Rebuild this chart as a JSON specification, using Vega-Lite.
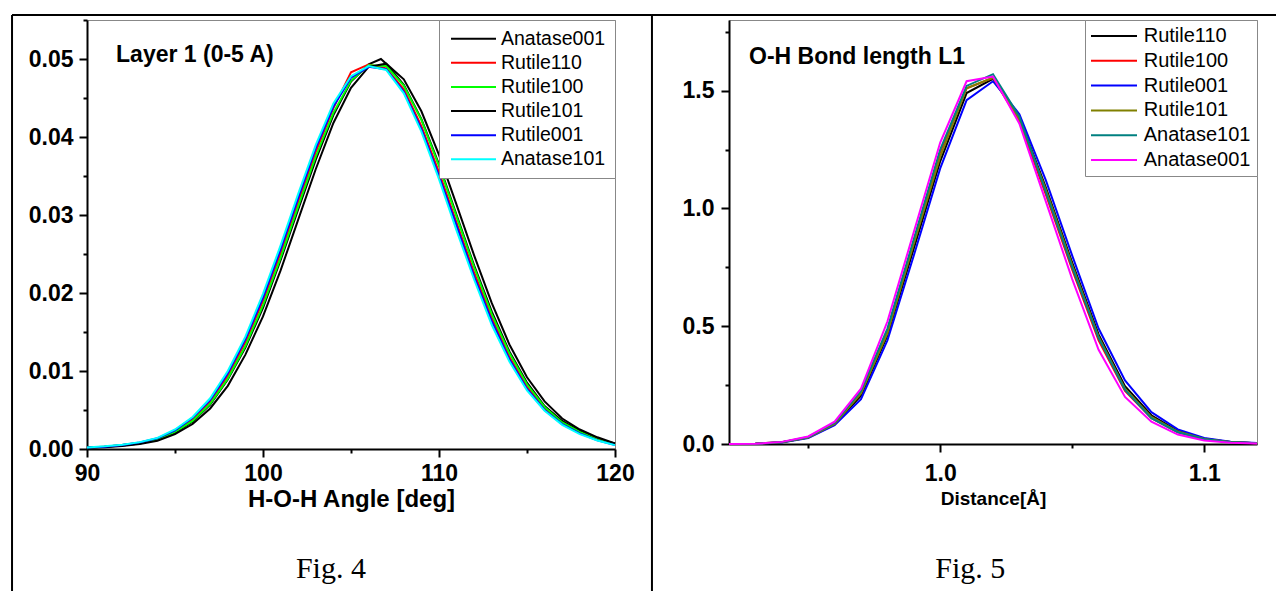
{
  "$schema": "https://vega.github.io/schema/vega-lite/v6.json",
  "padding": {"left": 10, "top": 13, "right": 0, "bottom": 0},
  "background": "white",
  "config": {
    "view": {"stroke": "#888888", "strokeWidth": 1},
    "font": "Liberation Sans",
    "axis": {"domainColor": "black", "domainWidth": 2, "tickColor": "black", "tickWidth": 2, "tickSize": 8, "labelFont": "Liberation Sans", "labelFontWeight": "bold", "labelFontSize": 23, "labelColor": "black", "titleFont": "Liberation Sans", "titleFontWeight": "bold", "titleColor": "black", "grid": false, "labelFlush": false, "labelOverlap": false},
    "legend": {"title": null, "labelFont": "Liberation Sans", "labelColor": "black", "strokeColor": "#888888", "fillColor": "white", "cornerRadius": 0, "symbolSize": 100, "symbolStrokeWidth": 2, "offset": 0, "orient": "top-right"}
  },
  "datasets": {
    "left": [
      {"s":"Anatase001","x":90,"y":0.0002},{"s":"Anatase001","x":91,"y":0.0003},{"s":"Anatase001","x":92,"y":0.00045},{"s":"Anatase001","x":93,"y":0.0007},{"s":"Anatase001","x":94,"y":0.0012},{"s":"Anatase001","x":95,"y":0.0021},{"s":"Anatase001","x":96,"y":0.0035},{"s":"Anatase001","x":97,"y":0.0057},{"s":"Anatase001","x":98,"y":0.0089},{"s":"Anatase001","x":99,"y":0.0130},{"s":"Anatase001","x":100,"y":0.0181},{"s":"Anatase001","x":101,"y":0.0242},{"s":"Anatase001","x":102,"y":0.0307},{"s":"Anatase001","x":103,"y":0.0371},{"s":"Anatase001","x":104,"y":0.0428},{"s":"Anatase001","x":105,"y":0.0471},{"s":"Anatase001","x":106,"y":0.0493},{"s":"Anatase001","x":106.7,"y":0.0500},{"s":"Anatase001","x":107,"y":0.0494},{"s":"Anatase001","x":108,"y":0.0467},{"s":"Anatase001","x":109,"y":0.0423},{"s":"Anatase001","x":110,"y":0.0365},{"s":"Anatase001","x":111,"y":0.0300},{"s":"Anatase001","x":112,"y":0.0235},{"s":"Anatase001","x":113,"y":0.0176},{"s":"Anatase001","x":114,"y":0.0125},{"s":"Anatase001","x":115,"y":0.0085},{"s":"Anatase001","x":116,"y":0.0055},{"s":"Anatase001","x":117,"y":0.0036},{"s":"Anatase001","x":118,"y":0.0023},{"s":"Anatase001","x":119,"y":0.0013},{"s":"Anatase001","x":120,"y":0.0007},
      {"s":"Rutile110","x":90,"y":0.0002},{"s":"Rutile110","x":91,"y":0.0003},{"s":"Rutile110","x":92,"y":0.0005},{"s":"Rutile110","x":93,"y":0.0008},{"s":"Rutile110","x":94,"y":0.0013},{"s":"Rutile110","x":95,"y":0.0023},{"s":"Rutile110","x":96,"y":0.0038},{"s":"Rutile110","x":97,"y":0.0061},{"s":"Rutile110","x":98,"y":0.0094},{"s":"Rutile110","x":99,"y":0.0137},{"s":"Rutile110","x":100,"y":0.0190},{"s":"Rutile110","x":101,"y":0.0251},{"s":"Rutile110","x":102,"y":0.0317},{"s":"Rutile110","x":103,"y":0.0381},{"s":"Rutile110","x":104,"y":0.0437},{"s":"Rutile110","x":105,"y":0.0483},{"s":"Rutile110","x":106,"y":0.0493},{"s":"Rutile110","x":107,"y":0.0488},{"s":"Rutile110","x":108,"y":0.0461},{"s":"Rutile110","x":109,"y":0.0414},{"s":"Rutile110","x":110,"y":0.0355},{"s":"Rutile110","x":111,"y":0.0290},{"s":"Rutile110","x":112,"y":0.0226},{"s":"Rutile110","x":113,"y":0.0168},{"s":"Rutile110","x":114,"y":0.0118},{"s":"Rutile110","x":115,"y":0.0080},{"s":"Rutile110","x":116,"y":0.0052},{"s":"Rutile110","x":117,"y":0.0033},{"s":"Rutile110","x":118,"y":0.0021},{"s":"Rutile110","x":119,"y":0.0012},{"s":"Rutile110","x":120,"y":0.0006},
      {"s":"Rutile100","x":90,"y":0.0002},{"s":"Rutile100","x":91,"y":0.0003},{"s":"Rutile100","x":92,"y":0.0005},{"s":"Rutile100","x":93,"y":0.00075},{"s":"Rutile100","x":94,"y":0.00125},{"s":"Rutile100","x":95,"y":0.0022},{"s":"Rutile100","x":96,"y":0.0036},{"s":"Rutile100","x":97,"y":0.0058},{"s":"Rutile100","x":98,"y":0.0090},{"s":"Rutile100","x":99,"y":0.0132},{"s":"Rutile100","x":100,"y":0.0184},{"s":"Rutile100","x":101,"y":0.0245},{"s":"Rutile100","x":102,"y":0.0311},{"s":"Rutile100","x":103,"y":0.0375},{"s":"Rutile100","x":104,"y":0.0431},{"s":"Rutile100","x":105,"y":0.0472},{"s":"Rutile100","x":106,"y":0.0492},{"s":"Rutile100","x":107,"y":0.0491},{"s":"Rutile100","x":108,"y":0.0466},{"s":"Rutile100","x":109,"y":0.0422},{"s":"Rutile100","x":110,"y":0.0363},{"s":"Rutile100","x":111,"y":0.0298},{"s":"Rutile100","x":112,"y":0.0233},{"s":"Rutile100","x":113,"y":0.0173},{"s":"Rutile100","x":114,"y":0.0123},{"s":"Rutile100","x":115,"y":0.0083},{"s":"Rutile100","x":116,"y":0.0054},{"s":"Rutile100","x":117,"y":0.0034},{"s":"Rutile100","x":118,"y":0.0022},{"s":"Rutile100","x":119,"y":0.0012},{"s":"Rutile100","x":120,"y":0.0006},
      {"s":"Rutile101","x":90,"y":0.00015},{"s":"Rutile101","x":91,"y":0.00023},{"s":"Rutile101","x":92,"y":0.0004},{"s":"Rutile101","x":93,"y":0.00064},{"s":"Rutile101","x":94,"y":0.00105},{"s":"Rutile101","x":95,"y":0.0019},{"s":"Rutile101","x":96,"y":0.0032},{"s":"Rutile101","x":97,"y":0.0052},{"s":"Rutile101","x":98,"y":0.0081},{"s":"Rutile101","x":99,"y":0.0121},{"s":"Rutile101","x":100,"y":0.0170},{"s":"Rutile101","x":101,"y":0.0229},{"s":"Rutile101","x":102,"y":0.0294},{"s":"Rutile101","x":103,"y":0.0359},{"s":"Rutile101","x":104,"y":0.0418},{"s":"Rutile101","x":105,"y":0.0463},{"s":"Rutile101","x":106,"y":0.0490},{"s":"Rutile101","x":107,"y":0.0494},{"s":"Rutile101","x":108,"y":0.0474},{"s":"Rutile101","x":109,"y":0.0433},{"s":"Rutile101","x":110,"y":0.0377},{"s":"Rutile101","x":111,"y":0.0313},{"s":"Rutile101","x":112,"y":0.0248},{"s":"Rutile101","x":113,"y":0.0187},{"s":"Rutile101","x":114,"y":0.0134},{"s":"Rutile101","x":115,"y":0.0092},{"s":"Rutile101","x":116,"y":0.0061},{"s":"Rutile101","x":117,"y":0.0039},{"s":"Rutile101","x":118,"y":0.0025},{"s":"Rutile101","x":119,"y":0.0015},{"s":"Rutile101","x":120,"y":0.0007},
      {"s":"Rutile001","x":90,"y":0.0002},{"s":"Rutile001","x":91,"y":0.0003},{"s":"Rutile001","x":92,"y":0.0005},{"s":"Rutile001","x":93,"y":0.00085},{"s":"Rutile001","x":94,"y":0.00137},{"s":"Rutile001","x":95,"y":0.0024},{"s":"Rutile001","x":96,"y":0.0040},{"s":"Rutile001","x":97,"y":0.0063},{"s":"Rutile001","x":98,"y":0.0097},{"s":"Rutile001","x":99,"y":0.0141},{"s":"Rutile001","x":100,"y":0.0194},{"s":"Rutile001","x":101,"y":0.0256},{"s":"Rutile001","x":102,"y":0.0322},{"s":"Rutile001","x":103,"y":0.0386},{"s":"Rutile001","x":104,"y":0.0439},{"s":"Rutile001","x":105,"y":0.0476},{"s":"Rutile001","x":106,"y":0.0490},{"s":"Rutile001","x":107,"y":0.0487},{"s":"Rutile001","x":108,"y":0.0458},{"s":"Rutile001","x":109,"y":0.0410},{"s":"Rutile001","x":110,"y":0.0350},{"s":"Rutile001","x":111,"y":0.0286},{"s":"Rutile001","x":112,"y":0.0221},{"s":"Rutile001","x":113,"y":0.0164},{"s":"Rutile001","x":114,"y":0.0115},{"s":"Rutile001","x":115,"y":0.0077},{"s":"Rutile001","x":116,"y":0.0050},{"s":"Rutile001","x":117,"y":0.0032},{"s":"Rutile001","x":118,"y":0.0020},{"s":"Rutile001","x":119,"y":0.0011},{"s":"Rutile001","x":120,"y":0.0005},
      {"s":"Anatase101","x":90,"y":0.0002},{"s":"Anatase101","x":91,"y":0.00034},{"s":"Anatase101","x":92,"y":0.00055},{"s":"Anatase101","x":93,"y":0.00088},{"s":"Anatase101","x":94,"y":0.00142},{"s":"Anatase101","x":95,"y":0.0025},{"s":"Anatase101","x":96,"y":0.0041},{"s":"Anatase101","x":97,"y":0.0065},{"s":"Anatase101","x":98,"y":0.0100},{"s":"Anatase101","x":99,"y":0.0144},{"s":"Anatase101","x":100,"y":0.0199},{"s":"Anatase101","x":101,"y":0.0261},{"s":"Anatase101","x":102,"y":0.0327},{"s":"Anatase101","x":103,"y":0.0390},{"s":"Anatase101","x":104,"y":0.0443},{"s":"Anatase101","x":105,"y":0.0478},{"s":"Anatase101","x":106,"y":0.0491},{"s":"Anatase101","x":107,"y":0.0486},{"s":"Anatase101","x":108,"y":0.0456},{"s":"Anatase101","x":109,"y":0.0407},{"s":"Anatase101","x":110,"y":0.0346},{"s":"Anatase101","x":111,"y":0.0280},{"s":"Anatase101","x":112,"y":0.0217},{"s":"Anatase101","x":113,"y":0.0159},{"s":"Anatase101","x":114,"y":0.0112},{"s":"Anatase101","x":115,"y":0.0075},{"s":"Anatase101","x":116,"y":0.0049},{"s":"Anatase101","x":117,"y":0.0031},{"s":"Anatase101","x":118,"y":0.0019},{"s":"Anatase101","x":119,"y":0.0011},{"s":"Anatase101","x":120,"y":0.0005}
    ],
    "right": [
      {"s":"Rutile110","x":0.92,"y":0},{"s":"Rutile110","x":0.93,"y":0.001},{"s":"Rutile110","x":0.94,"y":0.007},{"s":"Rutile110","x":0.95,"y":0.027},{"s":"Rutile110","x":0.96,"y":0.083},{"s":"Rutile110","x":0.97,"y":0.205},{"s":"Rutile110","x":0.98,"y":0.46},{"s":"Rutile110","x":0.99,"y":0.83},{"s":"Rutile110","x":1.0,"y":1.2},{"s":"Rutile110","x":1.01,"y":1.49},{"s":"Rutile110","x":1.02,"y":1.55},{"s":"Rutile110","x":1.03,"y":1.385},{"s":"Rutile110","x":1.04,"y":1.09},{"s":"Rutile110","x":1.05,"y":0.77},{"s":"Rutile110","x":1.06,"y":0.465},{"s":"Rutile110","x":1.07,"y":0.245},{"s":"Rutile110","x":1.08,"y":0.122},{"s":"Rutile110","x":1.09,"y":0.056},{"s":"Rutile110","x":1.1,"y":0.022},{"s":"Rutile110","x":1.11,"y":0.009},{"s":"Rutile110","x":1.12,"y":0.003},
      {"s":"Rutile100","x":0.92,"y":0},{"s":"Rutile100","x":0.93,"y":0.001},{"s":"Rutile100","x":0.94,"y":0.008},{"s":"Rutile100","x":0.95,"y":0.028},{"s":"Rutile100","x":0.96,"y":0.088},{"s":"Rutile100","x":0.97,"y":0.22},{"s":"Rutile100","x":0.98,"y":0.48},{"s":"Rutile100","x":0.99,"y":0.86},{"s":"Rutile100","x":1.0,"y":1.24},{"s":"Rutile100","x":1.01,"y":1.51},{"s":"Rutile100","x":1.02,"y":1.555},{"s":"Rutile100","x":1.03,"y":1.37},{"s":"Rutile100","x":1.04,"y":1.06},{"s":"Rutile100","x":1.05,"y":0.74},{"s":"Rutile100","x":1.06,"y":0.44},{"s":"Rutile100","x":1.07,"y":0.225},{"s":"Rutile100","x":1.08,"y":0.11},{"s":"Rutile100","x":1.09,"y":0.05},{"s":"Rutile100","x":1.1,"y":0.02},{"s":"Rutile100","x":1.11,"y":0.007},{"s":"Rutile100","x":1.12,"y":0.003},
      {"s":"Rutile001","x":0.92,"y":0},{"s":"Rutile001","x":0.93,"y":0.001},{"s":"Rutile001","x":0.94,"y":0.006},{"s":"Rutile001","x":0.95,"y":0.025},{"s":"Rutile001","x":0.96,"y":0.08},{"s":"Rutile001","x":0.97,"y":0.19},{"s":"Rutile001","x":0.98,"y":0.44},{"s":"Rutile001","x":0.99,"y":0.8},{"s":"Rutile001","x":1.0,"y":1.17},{"s":"Rutile001","x":1.01,"y":1.46},{"s":"Rutile001","x":1.02,"y":1.54},{"s":"Rutile001","x":1.03,"y":1.4},{"s":"Rutile001","x":1.04,"y":1.12},{"s":"Rutile001","x":1.05,"y":0.8},{"s":"Rutile001","x":1.06,"y":0.49},{"s":"Rutile001","x":1.07,"y":0.27},{"s":"Rutile001","x":1.08,"y":0.135},{"s":"Rutile001","x":1.09,"y":0.062},{"s":"Rutile001","x":1.1,"y":0.026},{"s":"Rutile001","x":1.11,"y":0.01},{"s":"Rutile001","x":1.12,"y":0.004},
      {"s":"Rutile101","x":0.92,"y":0},{"s":"Rutile101","x":0.93,"y":0.001},{"s":"Rutile101","x":0.94,"y":0.007},{"s":"Rutile101","x":0.95,"y":0.027},{"s":"Rutile101","x":0.96,"y":0.085},{"s":"Rutile101","x":0.97,"y":0.215},{"s":"Rutile101","x":0.98,"y":0.47},{"s":"Rutile101","x":0.99,"y":0.85},{"s":"Rutile101","x":1.0,"y":1.22},{"s":"Rutile101","x":1.01,"y":1.51},{"s":"Rutile101","x":1.02,"y":1.555},{"s":"Rutile101","x":1.03,"y":1.38},{"s":"Rutile101","x":1.04,"y":1.08},{"s":"Rutile101","x":1.05,"y":0.76},{"s":"Rutile101","x":1.06,"y":0.455},{"s":"Rutile101","x":1.07,"y":0.235},{"s":"Rutile101","x":1.08,"y":0.115},{"s":"Rutile101","x":1.09,"y":0.053},{"s":"Rutile101","x":1.1,"y":0.021},{"s":"Rutile101","x":1.11,"y":0.008},{"s":"Rutile101","x":1.12,"y":0.003},
      {"s":"Anatase101","x":0.92,"y":0},{"s":"Anatase101","x":0.93,"y":0.001},{"s":"Anatase101","x":0.94,"y":0.008},{"s":"Anatase101","x":0.95,"y":0.03},{"s":"Anatase101","x":0.96,"y":0.09},{"s":"Anatase101","x":0.97,"y":0.225},{"s":"Anatase101","x":0.98,"y":0.49},{"s":"Anatase101","x":0.99,"y":0.87},{"s":"Anatase101","x":1.0,"y":1.25},{"s":"Anatase101","x":1.01,"y":1.52},{"s":"Anatase101","x":1.02,"y":1.57},{"s":"Anatase101","x":1.03,"y":1.39},{"s":"Anatase101","x":1.04,"y":1.07},{"s":"Anatase101","x":1.05,"y":0.75},{"s":"Anatase101","x":1.06,"y":0.45},{"s":"Anatase101","x":1.07,"y":0.23},{"s":"Anatase101","x":1.08,"y":0.11},{"s":"Anatase101","x":1.09,"y":0.05},{"s":"Anatase101","x":1.1,"y":0.02},{"s":"Anatase101","x":1.11,"y":0.007},{"s":"Anatase101","x":1.12,"y":0.003},
      {"s":"Anatase001","x":0.92,"y":0},{"s":"Anatase001","x":0.93,"y":0.001},{"s":"Anatase001","x":0.94,"y":0.009},{"s":"Anatase001","x":0.95,"y":0.032},{"s":"Anatase001","x":0.96,"y":0.095},{"s":"Anatase001","x":0.97,"y":0.235},{"s":"Anatase001","x":0.98,"y":0.52},{"s":"Anatase001","x":0.99,"y":0.9},{"s":"Anatase001","x":1.0,"y":1.28},{"s":"Anatase001","x":1.01,"y":1.54},{"s":"Anatase001","x":1.02,"y":1.56},{"s":"Anatase001","x":1.03,"y":1.36},{"s":"Anatase001","x":1.04,"y":1.03},{"s":"Anatase001","x":1.05,"y":0.7},{"s":"Anatase001","x":1.06,"y":0.4},{"s":"Anatase001","x":1.07,"y":0.2},{"s":"Anatase001","x":1.08,"y":0.095},{"s":"Anatase001","x":1.09,"y":0.04},{"s":"Anatase001","x":1.1,"y":0.015},{"s":"Anatase001","x":1.11,"y":0.005},{"s":"Anatase001","x":1.12,"y":0.002}
    ]
  },
  "spacing": 114,
  "bounds": "flush",
  "resolve": {"scale": {"color": "independent"}, "legend": {"color": "independent"}},
  "hconcat": [
    {
      "width": 528,
      "height": 429,
      "resolve": {"axis": {"x": "independent", "y": "independent"}},
      "layer": [
        {
          "data": {"name": "left"},
          "mark": {"type": "line", "strokeWidth": 2},
          "encoding": {
            "x": {"field": "x", "type": "quantitative", "scale": {"domain": [90, 120], "nice": false, "zero": false},
                  "axis": {"orient": "bottom", "values": [90, 100, 110, 120], "title": "H-O-H Angle [deg]", "titleFontSize": 24, "labelPadding": 5, "titlePadding": 2}},
            "y": {"field": "y", "type": "quantitative", "scale": {"domain": [0, 0.055], "nice": false, "zero": false},
                  "axis": {"orient": "left", "values": [0, 0.01, 0.02, 0.03, 0.04, 0.05], "format": ".2f", "title": null, "labelPadding": 6}},
            "color": {"field": "s", "type": "nominal",
                      "scale": {"domain": ["Anatase001", "Rutile110", "Rutile100", "Rutile101", "Rutile001", "Anatase101"], "range": ["#000000", "#ff0000", "#00ff00", "#000000", "#0000ff", "#00ffff"]},
                      "legend": {"orient": "top-right", "offset": 0, "symbolType": "M-1.35,0H7.65", "symbolSize": 100, "labelFontSize": 19.5, "padding": 9, "labelOffset": 33.5, "rowPadding": 3.1}}
          }
        },
        {
          "data": {"name": "left"},
          "mark": {"type": "point", "opacity": 0},
          "encoding": {
            "x": {"field": "x", "type": "quantitative", "scale": {"domain": [90, 120], "nice": false, "zero": false},
                  "axis": {"orient": "bottom", "values": [95, 105, 115], "labels": false, "domain": false, "tickSize": 4, "title": null}},
            "y": {"field": "y", "type": "quantitative", "scale": {"domain": [0, 0.055], "nice": false, "zero": false},
                  "axis": {"orient": "left", "values": [0.005, 0.015, 0.025, 0.035, 0.045, 0.055], "labels": false, "domain": false, "tickSize": 4, "title": null}}
          }
        },
        {
          "data": {"values": [{}]},
          "mark": {"type": "rule", "color": "black", "strokeWidth": 2},
          "encoding": {
            "x": {"datum": 85.74, "type": "quantitative", "axis": null, "scale": {"domain": [90, 120], "nice": false, "zero": false}},
            "y": {"datum": 0.05565, "type": "quantitative", "axis": null, "scale": {"domain": [0, 0.055], "nice": false, "zero": false}},
            "y2": {"datum": -0.0182}
          }
        },
        {
          "data": {"values": [{}]},
          "mark": {"type": "rule", "color": "black", "strokeWidth": 2},
          "encoding": {
            "x": {"datum": 122.1, "type": "quantitative", "axis": null, "scale": {"domain": [90, 120], "nice": false, "zero": false}},
            "y": {"datum": 0.05565, "type": "quantitative", "axis": null, "scale": {"domain": [0, 0.055], "nice": false, "zero": false}},
            "y2": {"datum": -0.0182}
          }
        },
        {
          "data": {"values": [{}]},
          "mark": {"type": "rule", "color": "black", "strokeWidth": 2},
          "encoding": {
            "x": {"datum": 85.74, "type": "quantitative", "axis": null, "scale": {"domain": [90, 120], "nice": false, "zero": false}},
            "x2": {"datum": 122.1},
            "y": {"datum": 0.05565, "type": "quantitative", "axis": null, "scale": {"domain": [0, 0.055], "nice": false, "zero": false}}
          }
        },
        {
          "data": {"values": [{}]},
          "mark": {"type": "text", "text": "Layer 1 (0-5 A)", "font": "Liberation Sans", "fontWeight": "bold", "fontSize": 23, "align": "left", "baseline": "alphabetic", "color": "black"},
          "encoding": {
            "x": {"datum": 91.65, "type": "quantitative", "axis": null, "scale": {"domain": [90, 120], "nice": false, "zero": false}},
            "y": {"datum": 0.04965, "type": "quantitative", "axis": null, "scale": {"domain": [0, 0.055], "nice": false, "zero": false}}
          }
        },
        {
          "data": {"values": [{}]},
          "mark": {"type": "text", "text": "Fig. 4", "font": "Liberation Serif", "fontWeight": "normal", "fontSize": 30, "align": "center", "baseline": "alphabetic", "color": "black"},
          "encoding": {
            "x": {"datum": 103.86, "type": "quantitative", "axis": null, "scale": {"domain": [90, 120], "nice": false, "zero": false}},
            "y": {"datum": -0.0165, "type": "quantitative", "axis": null, "scale": {"domain": [0, 0.055], "nice": false, "zero": false}}
          }
        }
      ]
    },
    {
      "width": 528,
      "height": 424,
      "resolve": {"axis": {"x": "independent", "y": "independent"}},
      "layer": [
        {
          "data": {"name": "right"},
          "mark": {"type": "line", "strokeWidth": 2},
          "encoding": {
            "x": {"field": "x", "type": "quantitative", "scale": {"domain": [0.92, 1.12], "nice": false, "zero": false},
                  "axis": {"orient": "bottom", "values": [1.0, 1.1], "format": ".1f", "title": "Distance[Å]", "titleFontSize": 19, "labelPadding": 10, "titlePadding": 4}},
            "y": {"field": "y", "type": "quantitative", "scale": {"domain": [0, 1.8], "nice": false, "zero": false},
                  "axis": {"orient": "left", "values": [0, 0.5, 1.0, 1.5], "format": ".1f", "title": null, "labelPadding": 7}},
            "color": {"field": "s", "type": "nominal",
                      "scale": {"domain": ["Rutile110", "Rutile100", "Rutile001", "Rutile101", "Anatase101", "Anatase001"], "range": ["#000000", "#ff0000", "#0000ff", "#808000", "#008080", "#ff00ff"]},
                      "legend": {"orient": "top-right", "offset": 0, "symbolType": "M-2,0H7.2", "symbolSize": 100, "labelFontSize": 20, "padding": 6, "labelOffset": 32.7, "rowPadding": 4.8}}
          }
        },
        {
          "data": {"name": "right"},
          "mark": {"type": "point", "opacity": 0},
          "encoding": {
            "x": {"field": "x", "type": "quantitative", "scale": {"domain": [0.92, 1.12], "nice": false, "zero": false},
                  "axis": {"orient": "bottom", "values": [0.95, 1.05], "labels": false, "domain": false, "tickSize": 4, "title": null}},
            "y": {"field": "y", "type": "quantitative", "scale": {"domain": [0, 1.8], "nice": false, "zero": false},
                  "axis": {"orient": "left", "values": [0.25, 0.75, 1.25, 1.75], "labels": false, "domain": false, "tickSize": 4, "title": null}}
          }
        },
        {
          "data": {"values": [{}]},
          "mark": {"type": "rule", "color": "black", "strokeWidth": 2},
          "encoding": {
            "x": {"datum": 0.8908, "type": "quantitative", "axis": null, "scale": {"domain": [0.92, 1.12], "nice": false, "zero": false}},
            "x2": {"datum": 1.1272},
            "y": {"datum": 1.8212, "type": "quantitative", "axis": null, "scale": {"domain": [0, 1.8], "nice": false, "zero": false}}
          }
        },
        {
          "data": {"values": [{}]},
          "mark": {"type": "text", "text": "O-H Bond length L1", "font": "Liberation Sans", "fontWeight": "bold", "fontSize": 23, "align": "left", "baseline": "alphabetic", "color": "black"},
          "encoding": {
            "x": {"datum": 0.9276, "type": "quantitative", "axis": null, "scale": {"domain": [0.92, 1.12], "nice": false, "zero": false}},
            "y": {"datum": 1.6129, "type": "quantitative", "axis": null, "scale": {"domain": [0, 1.8], "nice": false, "zero": false}}
          }
        },
        {
          "data": {"values": [{}]},
          "mark": {"type": "text", "text": "Fig. 5", "font": "Liberation Serif", "fontWeight": "normal", "fontSize": 30, "align": "center", "baseline": "alphabetic", "color": "black"},
          "encoding": {
            "x": {"datum": 1.0114, "type": "quantitative", "axis": null, "scale": {"domain": [0.92, 1.12], "nice": false, "zero": false}},
            "y": {"datum": -0.5675, "type": "quantitative", "axis": null, "scale": {"domain": [0, 1.8], "nice": false, "zero": false}}
          }
        }
      ]
    }
  ]
}
